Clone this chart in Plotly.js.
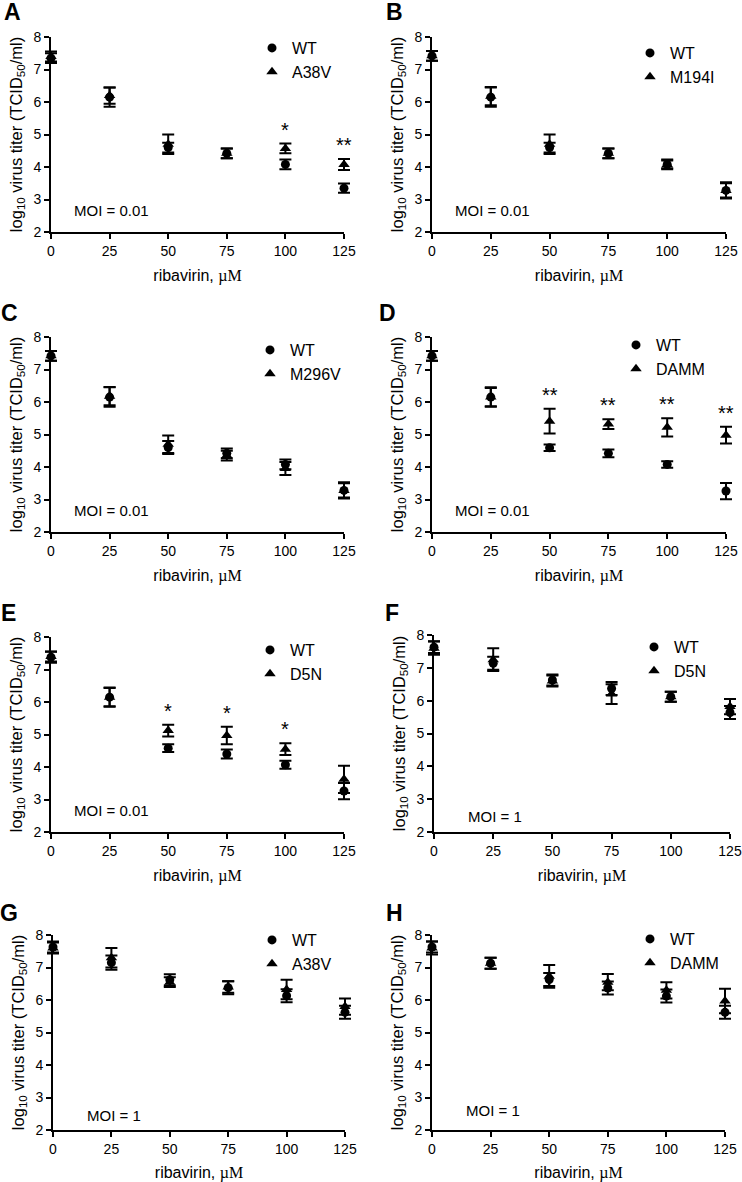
<!DOCTYPE html>
<html><head><meta charset="utf-8">
<script src="https://cdn.plot.ly/plotly-3.0.1.min.js"></script>
<style>html,body{margin:0;padding:0;background:#fff}</style>
</head><body><div id="chart" style="width:742px;height:1182px"></div>
<script>
// ---------- data ----------
const ribavirin = [0, 25, 50, 75, 100, 125];
const xTicks = [0, 25, 50, 75, 100, 125];
const yTicks = [2, 3, 4, 5, 6, 7, 8];
const panelLetters = ['A', 'B', 'C', 'D', 'E', 'F', 'G', 'H'];
const mutantNames = ['A38V', 'M194I', 'M296V', 'DAMM', 'D5N', 'D5N', 'A38V', 'DAMM'];
const moiLabels = ['MOI = 0.01', 'MOI = 0.01', 'MOI = 0.01', 'MOI = 0.01', 'MOI = 0.01', 'MOI = 1', 'MOI = 1', 'MOI = 1'];

const wtA = [7.35, 6.15, 4.6, 4.42, 4.08, 3.35];
const wtAErr = [0.15, 0.3, 0.15, 0.15, 0.15, 0.14];
const mutA = [7.4, 6.2, 4.7, 4.42, 4.57, 4.08];
const mutAErr = [0.15, 0.25, 0.3, 0.15, 0.15, 0.17];
const starsA = ['', '', '', '', '*', '**'];

const wtB = [7.42, 6.15, 4.6, 4.42, 4.08, 3.28];
const wtBErr = [0.15, 0.3, 0.15, 0.15, 0.15, 0.22];
const mutB = [7.42, 6.18, 4.7, 4.42, 4.08, 3.28];
const mutBErr = [0.15, 0.28, 0.3, 0.15, 0.12, 0.25];
const starsB = ['', '', '', '', '', ''];

const wtC = [7.42, 6.15, 4.6, 4.42, 4.08, 3.28];
const wtCErr = [0.15, 0.3, 0.2, 0.15, 0.15, 0.22];
const mutC = [7.42, 6.18, 4.7, 4.35, 3.95, 3.28];
const mutCErr = [0.15, 0.28, 0.27, 0.15, 0.2, 0.25];
const starsC = ['', '', '', '', '', ''];

const wtD = [7.42, 6.15, 4.59, 4.42, 4.08, 3.26];
const wtDErr = [0.15, 0.3, 0.1, 0.12, 0.1, 0.25];
const mutD = [7.42, 6.15, 5.41, 5.32, 5.22, 4.98];
const mutDErr = [0.15, 0.28, 0.38, 0.15, 0.28, 0.26];
const starsD = ['', '', '**', '**', '**', '**'];

const wtE = [7.38, 6.15, 4.58, 4.4, 4.07, 3.26];
const wtEErr = [0.17, 0.3, 0.12, 0.14, 0.12, 0.25];
const mutE = [7.4, 6.15, 5.12, 4.97, 4.55, 3.62];
const mutEErr = [0.15, 0.28, 0.18, 0.27, 0.18, 0.42];
const starsE = ['', '', '*', '*', '*', ''];

const wtF = [7.63, 7.14, 6.63, 6.37, 6.12, 5.64];
const wtFErr = [0.18, 0.2, 0.17, 0.2, 0.15, 0.2];
const mutF = [7.6, 7.25, 6.6, 6.2, 6.12, 5.82];
const mutFErr = [0.2, 0.35, 0.17, 0.3, 0.15, 0.23];
const starsF = ['', '', '', '', '', ''];

const wtG = [7.63, 7.15, 6.62, 6.38, 6.13, 5.62];
const wtGErr = [0.17, 0.22, 0.17, 0.2, 0.2, 0.2];
const mutG = [7.6, 7.3, 6.55, 6.4, 6.32, 5.8];
const mutGErr = [0.17, 0.3, 0.15, 0.18, 0.3, 0.25];
const starsG = ['', '', '', '', '', ''];

const wtH = [7.63, 7.13, 6.63, 6.37, 6.12, 5.62];
const wtHErr = [0.17, 0.17, 0.2, 0.2, 0.2, 0.2];
const mutH = [7.6, 7.13, 6.73, 6.55, 6.3, 5.97];
const mutHErr = [0.2, 0.17, 0.35, 0.25, 0.25, 0.38];
const starsH = ['', '', '', '', '', ''];

const wtSeries = [wtA, wtB, wtC, wtD, wtE, wtF, wtG, wtH];
const wtErrs = [wtAErr, wtBErr, wtCErr, wtDErr, wtEErr, wtFErr, wtGErr, wtHErr];
const mutSeries = [mutA, mutB, mutC, mutD, mutE, mutF, mutG, mutH];
const mutErrs = [mutAErr, mutBErr, mutCErr, mutDErr, mutEErr, mutFErr, mutGErr, mutHErr];
const starSeries = [starsA, starsB, starsC, starsD, starsE, starsF, starsG, starsH];

// ---------- layout geometry (pixels) ----------
const W = 742, H = 1182;
const boxes = [ // left, top, right, bottom of plot area
  [51, 37, 344, 232], [432, 37, 726, 232],
  [51, 337, 344, 532], [432, 337, 726, 532],
  [51, 637, 344, 832], [434, 635, 730, 832],
  [53, 935, 345, 1130], [432, 935, 725, 1130]
];
const legendPos = [ // marker x, first item y
  [272, 43], [650, 48], [270, 345], [636, 340],
  [270, 645], [654, 642], [272, 935], [650, 934]
];
const letterPos = [
  [12, 12], [394, 12], [9, 313], [387, 313],
  [8, 613], [392, 613], [9, 913], [394, 913]
];
const moiPos = [ // data x, data y
  [9, 2.67], [9, 2.67], [9, 2.67], [9, 2.67],
  [9, 2.67], [13.5, 2.46], [13.7, 2.46], [13.6, 2.6]
];

const FONT = 'Liberation Sans, Arial, sans-serif';
const traces = [];
const layout = {
  width: W, height: H,
  margin: {l: 0, r: 0, t: 0, b: 0},
  paper_bgcolor: '#fff', plot_bgcolor: '#fff',
  font: {family: FONT, color: '#000', size: 14},
  showlegend: true,
  annotations: []
};

for (let i = 0; i < 8; i++) {
  const n = i + 1;
  const xa = 'x' + (n === 1 ? '' : n), ya = 'y' + (n === 1 ? '' : n);
  const xk = 'xaxis' + (n === 1 ? '' : n), yk = 'yaxis' + (n === 1 ? '' : n);
  const lg = 'legend' + (n === 1 ? '' : n);
  const b = boxes[i];
  layout[xk] = {
    domain: [b[0] / W, b[2] / W], anchor: ya, range: [0, 125],
    tickvals: xTicks, ticktext: xTicks.map(String),
    showline: true, linewidth: 2, linecolor: '#000',
    ticks: 'outside', ticklen: 5, tickwidth: 2, tickcolor: '#000',
    showgrid: false, zeroline: false, fixedrange: true,
    tickfont: {size: 14, family: FONT},
    title: {text: 'ribavirin, <span style="font-family:Liberation Serif, Times New Roman, serif">µM</span>',
            font: {size: 16, family: FONT}, standoff: 12}
  };
  layout[yk] = {
    domain: [1 - b[3] / H, 1 - b[1] / H], anchor: xa, range: [2, 8],
    tickvals: yTicks, ticktext: yTicks.map(String),
    showline: true, linewidth: 2, linecolor: '#000',
    ticks: 'outside', ticklen: 5, tickwidth: 2, tickcolor: '#000',
    showgrid: false, zeroline: false, fixedrange: true,
    tickfont: {size: 14, family: FONT},
    title: {text: 'log<sub>10</sub> virus titer (TCID<sub>50</sub>/ml)',
            font: {size: 16.5, family: FONT}, standoff: 7}
  };
  const lp = legendPos[i];
  layout[lg] = {
    x: (lp[0] - 20) / W, y: 1 - (lp[1] - 12) / H,
    xanchor: 'left', yanchor: 'top',
    bgcolor: 'rgba(0,0,0,0)', borderwidth: 0,
    font: {size: 16, family: FONT, color: '#000'},
    tracegroupgap: 0
  };
  traces.push({
    type: 'scatter', mode: 'markers', x: ribavirin, y: wtSeries[i],
    xaxis: xa, yaxis: ya, name: 'WT', legend: lg,
    marker: {symbol: 'circle', size: 9, color: '#000'},
    error_y: {type: 'data', array: wtErrs[i], visible: true, color: '#000', thickness: 2, width: 6},
    cliponaxis: false
  });
  traces.push({
    type: 'scatter', mode: 'markers', x: ribavirin, y: mutSeries[i],
    xaxis: xa, yaxis: ya, name: mutantNames[i], legend: lg,
    marker: {symbol: 'triangle-up', size: 10, color: '#000'},
    error_y: {type: 'data', array: mutErrs[i], visible: true, color: '#000', thickness: 2, width: 6},
    cliponaxis: false
  });
  // significance stars
  starSeries[i].forEach((s, j) => {
    if (!s) return;
    layout.annotations.push({
      xref: xa, yref: ya, x: ribavirin[j], y: mutSeries[i][j] + mutErrs[i][j],
      text: s, showarrow: false, yanchor: 'bottom', xanchor: 'center', yshift: 1,
      font: {size: 20, family: FONT, color: '#000'}
    });
  });
  // MOI label
  layout.annotations.push({
    xref: xa, yref: ya, x: moiPos[i][0], y: moiPos[i][1],
    text: moiLabels[i], showarrow: false, xanchor: 'left', yanchor: 'middle',
    font: {size: 15, family: FONT, color: '#000'}
  });
  // panel letter
  layout.annotations.push({
    xref: 'paper', yref: 'paper', x: letterPos[i][0] / W, y: 1 - letterPos[i][1] / H,
    text: '<b>' + panelLetters[i] + '</b>', showarrow: false, xanchor: 'center', yanchor: 'middle',
    font: {size: 23, family: FONT, color: '#000'}
  });
}

Plotly.newPlot('chart', traces, layout, {displayModeBar: false, staticPlot: true}).then(gd => {
  // let error-bar caps at x = 0 and x = 125 extend past the axis ends, as in the original
  gd.querySelectorAll('.cartesianlayer [clip-path]').forEach(el => el.removeAttribute('clip-path'));
});
</script>
</body></html>
